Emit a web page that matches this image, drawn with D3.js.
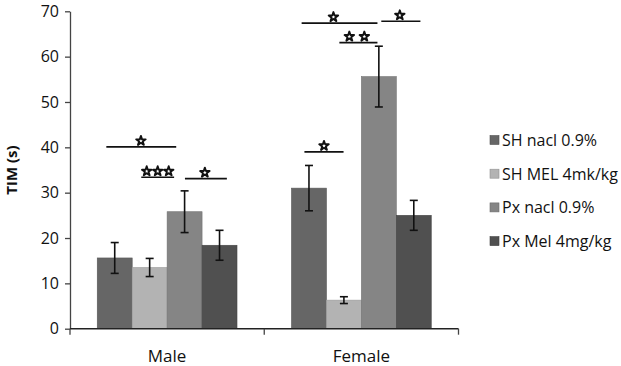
<!DOCTYPE html>
<html><head><meta charset="utf-8">
<script src="https://cdn.jsdelivr.net/npm/d3@7"></script>
<style>body{margin:0;background:#fff}svg{display:block}text{font-family:"Open Sans","Liberation Sans",sans-serif}</style>
</head><body>
<svg id="c" width="621" height="366"></svg>
<script>
const categories = ["Male", "Female"];
const seriesNames = ["SH nacl 0.9%", "SH MEL 4mk/kg", "Px nacl 0.9%", "Px Mel 4mg/kg"];
const seriesColors = ["#666666", "#b3b3b3", "#858585", "#505050"];
const maleValues = [15.6, 13.5, 25.8, 18.4];
const maleErrors = [3.4, 2.0, 4.6, 3.3];
const femaleValues = [31.0, 6.3, 55.6, 25.0];
const femaleErrors = [5.0, 0.75, 6.7, 3.3];
const yTicks = [0, 10, 20, 30, 40, 50, 60, 70];
// significance brackets (positions in bar-index units, y in data units)
const sigMale = [
  {x0: -0.24, x1: 1.76, y: 40.1, n: 1, s: 0.75},
  {x0: 0.76, x1: 1.7, y: 33.4, n: 3, s: 1.23},
  {x0: 2.01, x1: 3.21, y: 33.1, n: 1, s: 2.58}
];
const sigFemale = [
  {x0: -0.13, x1: 0.99, y: 39.0, n: 1, s: 0.43},
  {x0: -0.21, x1: 1.96, y: 67.4, n: 1, s: 0.7},
  {x0: 0.87, x1: 1.96, y: 63.1, n: 2, s: 1.37},
  {x0: 2.07, x1: 3.19, y: 67.8, n: 1, s: 2.6}
];

const data = [
  {cat: "Male", values: maleValues, errors: maleErrors, sig: sigMale},
  {cat: "Female", values: femaleValues, errors: femaleErrors, sig: sigFemale}
];

const svg = d3.select("#c");
const mLeft = 70, mRight = 458.5, mTop = 11.3, mBottom = 328.7;
const x = d3.scaleBand().domain(categories).range([mLeft, mRight]).paddingInner(0).paddingOuter(0);
const xs = d3.scaleBand().domain(d3.range(4)).range([0, x.bandwidth()]).paddingInner(0).paddingOuter(0.78);
const y = d3.scaleLinear().domain([0, 70]).range([mBottom, mTop]);

data.forEach(d => {
  const g = svg.append("g").attr("transform", `translate(${x(d.cat)},0)`);
  d.values.forEach((v, i) => {
    g.append("rect").attr("x", xs(i)).attr("y", y(v)).attr("width", xs.bandwidth()).attr("height", y(0) - y(v))
      .attr("fill", seriesColors[i]).attr("stroke", d3.color(seriesColors[i]).darker(0.4)).attr("stroke-width", 0.6);
  });
  d.values.forEach((v, i) => {
    const cx = xs(i) + xs.bandwidth() / 2;
    const hi = y(v + d.errors[i]), lo = y(v - d.errors[i]);
    g.append("line").attr("x1", cx).attr("x2", cx).attr("y1", hi).attr("y2", lo).attr("stroke", "#111").attr("stroke-width", 1.6);
    [hi, lo].forEach(yy => g.append("line").attr("x1", cx - 4).attr("x2", cx + 4).attr("y1", yy).attr("y2", yy).attr("stroke", "#111").attr("stroke-width", 1.6));
  });
  const bx = i => xs(0) + (i + 0.5) * xs.bandwidth();
  d.sig.forEach(s => {
    const x0 = bx(s.x0), x1 = bx(s.x1), yy = y(s.y);
    g.append("line").attr("x1", x0).attr("x2", x1).attr("y1", yy).attr("y2", yy).attr("stroke", "#111").attr("stroke-width", 1.6);
    const mid = bx(s.s);
    const spacing = s.n === 2 ? 15 : 11;
    for (let k = 0; k < s.n; k++) {
      const sx = mid + (k - (s.n - 1) / 2) * spacing;
      g.append("path").attr("d", d3.symbol(d3.symbolStar, 28)())
        .attr("transform", `translate(${sx},${yy - 6})`)
        .attr("fill", "#fff").attr("stroke", "#111").attr("stroke-width", 1.9).attr("stroke-linejoin", "round");
    }
  });
});

const yAxis = svg.append("g").attr("transform", `translate(${mLeft},0)`)
  .call(d3.axisLeft(y).tickValues(yTicks).tickSize(5).tickSizeOuter(0));
yAxis.select(".domain").attr("stroke", "#444").attr("stroke-width", 1.3);
yAxis.selectAll(".tick line").attr("stroke", "#444").attr("stroke-width", 1.3);
yAxis.selectAll(".tick text").attr("font-size", 16).attr("fill", "#111").attr("x", -11).attr("font-family", "Open Sans");

const xAxis = svg.append("g").attr("transform", `translate(0,${mBottom})`);
xAxis.append("line").attr("x1", mLeft).attr("x2", mRight).attr("stroke", "#222").attr("stroke-width", 1.4);
[mLeft, x("Female"), mRight].forEach(p => xAxis.append("line").attr("x1", p).attr("x2", p).attr("y1", 0).attr("y2", 6).attr("stroke", "#444").attr("stroke-width", 1.3));
categories.forEach(c => xAxis.append("text").attr("x", x(c) + x.bandwidth() / 2).attr("y", 33.5)
  .attr("text-anchor", "middle").attr("font-size", 17).attr("fill", "#111").text(c));

svg.append("text").attr("transform", `translate(17,${(mTop + mBottom) / 2}) rotate(-90)`)
  .attr("text-anchor", "middle").attr("font-size", 15).attr("font-weight", "bold").attr("fill", "#111").text("TIM (s)");

const lg = svg.append("g").attr("transform", "translate(490,140)");
seriesNames.forEach((n, i) => {
  const row = lg.append("g").attr("transform", `translate(0,${i * 33.7})`);
  row.append("rect").attr("x", 0).attr("y", -4.5).attr("width", 9).attr("height", 9)
    .attr("fill", seriesColors[i]).attr("stroke", d3.color(seriesColors[i]).darker(0.6)).attr("stroke-width", 0.6);
  row.append("text").attr("x", 12).attr("y", 6).attr("font-size", 16).attr("fill", "#111").text(n);
});
</script>
</body></html>
